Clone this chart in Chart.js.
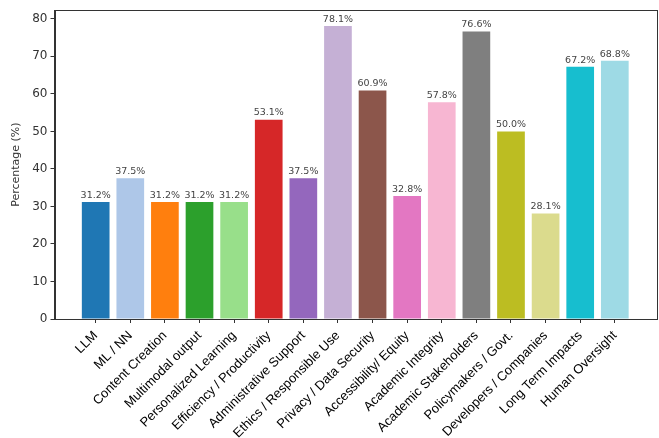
<!DOCTYPE html>
<html>
<head>
<meta charset="utf-8">
<script src="https://cdn.jsdelivr.net/npm/chart.js@4"></script>
<style>
html,body{margin:0;padding:0;background:#fff;}
#wrap{width:659px;height:438px;position:relative;}
</style>
</head>
<body>
<div id="wrap"><canvas id="c" width="659" height="438"></canvas></div>
<script>
const categories = ["LLM","ML / NN","Content Creation","Multimodal output","Personalized Learning","Efficiency / Productivity","Administrative Support","Ethics / Responsible Use","Privacy / Data Security","Accessibility/ Equity","Academic Integrity","Academic Stakeholders","Policymakers / Govt.","Developers / Companies","Long Term Impacts","Human Oversight"];
const percentages = [31.2,37.5,31.2,31.2,31.2,53.1,37.5,78.1,60.9,32.8,57.8,76.6,50.0,28.1,67.2,68.8];
const barColors = ["#1f77b4","#aec7e8","#ff7f0e","#2ca02c","#98df8a","#d62728","#9467bd","#c5b0d5","#8c564b","#e377c2","#f7b6d2","#7f7f7f","#bcbd22","#dbdb8d","#17becf","#9edae5"];
const yTicks = [0,10,20,30,40,50,60,70,80];

const frame = {
  id:'frame',
  afterDraw(chart){
    const a = chart.chartArea, ctx = chart.ctx;
    ctx.save();
    ctx.strokeStyle = '#333';
    ctx.lineWidth = 1;
    ctx.strokeRect(Math.round(a.left)+0.5, Math.round(a.top)+0.5, Math.round(a.right-a.left), Math.round(a.bottom-a.top));
    ctx.restore();
  }
};
const valueLabels = {
  id:'valueLabels',
  afterDatasetsDraw(chart){
    const ctx = chart.ctx;
    const meta = chart.getDatasetMeta(0);
    ctx.save();
    ctx.font = '9.5px "DejaVu Sans"';
    ctx.fillStyle = '#444';
    ctx.textAlign = 'center';
    ctx.textBaseline = 'bottom';
    meta.data.forEach((el,i)=>{
      ctx.fillText(percentages[i].toFixed(1)+'%', el.x, el.y-2);
    });
    ctx.restore();
  }
};

new Chart(document.getElementById('c'), {
  type:'bar',
  data:{
    datasets:[{
      data: percentages.map((v,i)=>({x:i,y:v})),
      backgroundColor: barColors,
      borderWidth: 0,
      barPercentage: 0.8,
      categoryPercentage: 1.0
    }]
  },
  options:{
    responsive:false,
    animation:false,
    events:[],
    layout:{padding:{top:4,right:3,left:0,bottom:0}},
    plugins:{legend:{display:false},tooltip:{enabled:false}},
    scales:{
      x:{
        type:'linear',
        offset:false,
        min:-1.19, max:16.19,
        afterBuildTicks(scale){ scale.ticks = categories.map((_,i)=>({value:i})); },
        afterFit(scale){ scale.height = 119; },
        grid:{drawOnChartArea:false, offset:false, tickLength:4, color:'#333'},
        border:{display:true,color:'#333'},
        ticks:{
          autoSkip:false,
          minRotation:45, maxRotation:45,
          padding:5,
          color:'#000',
          font:{family:'"Liberation Sans", Arial', size:13},
          callback(v){ return categories[v] ?? ''; }
        }
      },
      y:{
        min:0, max:82.3,
        afterBuildTicks(scale){ scale.ticks = yTicks.map(v=>({value:v})); },
        afterFit(scale){ scale.width = 54.5; },
        grid:{drawOnChartArea:false, tickLength:4, color:'#333'},
        border:{display:true,color:'#333'},
        title:{display:true,text:'Percentage (%)',color:'#333',font:{family:'"DejaVu Sans"',size:11},padding:{top:10,bottom:0}},
        ticks:{
          color:'#333',
          padding:3,
          font:{family:'"DejaVu Sans"',size:12},
          callback(v){ return String(v); }
        }
      }
    }
  },
  plugins:[frame,valueLabels]
});
</script>
</body>
</html>
